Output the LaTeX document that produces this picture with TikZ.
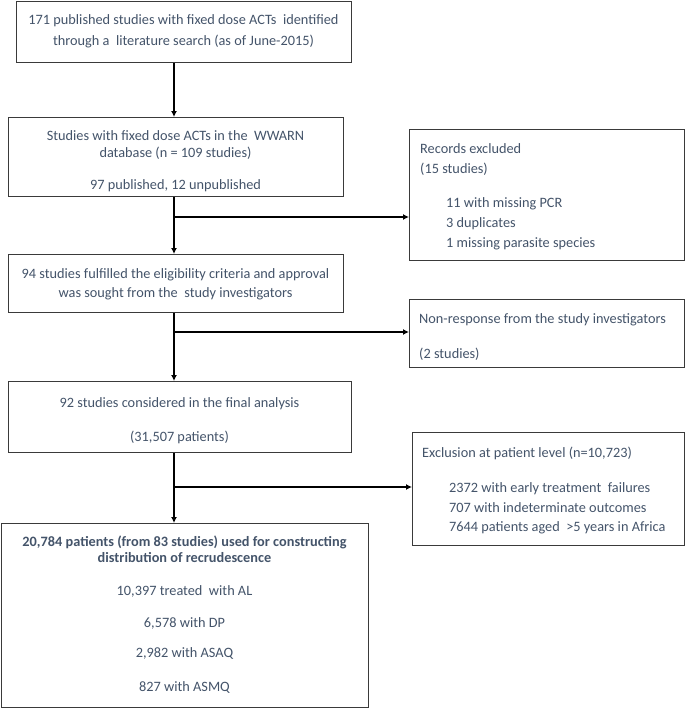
\documentclass[tikz,border=0pt]{standalone}
\usepackage{fontspec}
\setmainfont{Carlito}
\usetikzlibrary{arrows.meta}
\definecolor{txt}{HTML}{44546A}
\definecolor{frame}{HTML}{3A3A3A}
\tikzset{
  boxnode/.style={draw=frame, line width=1.2pt, anchor=north west, inner sep=0pt, fill=white},
  tl/.style={text=txt, font=\fontsize{14.3}{17}\selectfont, inner sep=0pt, anchor=mid, yshift=-2.5pt},
  tlw/.style={tl, anchor=mid west},
  tlb/.style={tl, font=\fontsize{14.3}{17}\selectfont\bfseries},
  arr/.style={draw=black, line width=1.2pt, -{Latex[length=6pt,width=6pt]}},
  ln/.style={draw=black, line width=1.2pt}
}
\begin{document}
\begin{tikzpicture}[x=1pt,y=-1pt]
\useasboundingbox (0,0) rectangle (685,709);
% boxes
\node[boxnode, minimum width=335pt, minimum height=61pt] (b1) at (16,1) {};
\node[boxnode, minimum width=335pt, minimum height=79pt] (b2) at (8,117) {};
\node[boxnode, minimum width=335pt, minimum height=58pt] (b3) at (8,254) {};
\node[boxnode, minimum width=343pt, minimum height=71pt] (b4) at (8,381) {};
\node[boxnode, minimum width=367pt, minimum height=184pt] (b5) at (1,523) {};
\node[boxnode, minimum width=275pt, minimum height=131pt] (r1) at (409,129) {};
\node[boxnode, minimum width=275pt, minimum height=68pt] (r2) at (409,299) {};
\node[boxnode, minimum width=272pt, minimum height=113pt] (r3) at (412,432) {};
% texts
\node[tl] (t11) at (183.5,20) {171 published studies with fixed dose ACTs\ \ identified};
\node[tl] (t12) at (183.5,41) {through a\ \ literature search (as of June-2015)};
\node[tl] (t21) at (175.5,136) {Studies with fixed dose ACTs in the\ \ WWARN};
\node[tl] (t22) at (175.5,153) {database (n = 109 studies)};
\node[tl] (t23) at (175.5,185) {97 published, 12 unpublished};
\node[tl] (t31) at (175.5,274) {94 studies fulfilled the eligibility criteria and approval};
\node[tl] (t32) at (175.5,293) {was sought from the\ \ study investigators};
\node[tl] (t41) at (179.5,403) {92 studies considered in the final analysis};
\node[tl] (t42) at (179.5,437) {(31,507 patients)};
\node[tlb] (t51) at (184.5,542) {20,784 patients (from 83 studies) used for constructing};
\node[tlb] (t52) at (184.5,558) {distribution of recrudescence};
\node[tl] (t53) at (184.5,591) {10,397 treated\ \ with AL};
\node[tl] (t54) at (184.5,623) {6,578 with DP};
\node[tl] (t55) at (184.5,653) {2,982 with ASAQ};
\node[tl] (t56) at (184.5,687) {827 with ASMQ};
\node[tlw] (u11) at (420,149) {Records excluded};
\node[tlw] (u12) at (420,169) {(15 studies)};
\node[tlw] (u13) at (446,203) {11 with missing PCR};
\node[tlw] (u14) at (446,223) {3 duplicates};
\node[tlw] (u15) at (446,243) {1 missing parasite species};
\node[tlw] (u21) at (419,319) {Non-response from the study investigators};
\node[tlw] (u22) at (419,354) {(2 studies)};
\node[tlw] (u31) at (422,453) {Exclusion at patient level (n=10,723)};
\node[tlw] (u32) at (449,488) {2372 with early treatment\ \ failures};
\node[tlw] (u33) at (449,508) {707 with indeterminate outcomes};
\node[tlw] (u34) at (449,527) {7644 patients aged\ \ >5 years in Africa};
% connectors
\coordinate (sp) at (174,0);
\coordinate (j1) at (174,217);
\coordinate (j2) at (174,332);
\coordinate (j3) at (174,487);
\draw[arr] (b1.south -| sp) -- (b2.north -| sp);
\draw[arr] (b2.south -| sp) -- (b3.north -| sp);
\draw[arr] (b3.south -| sp) -- (b4.north -| sp);
\draw[arr] (b4.south -| sp) -- (b5.north -| sp);
\draw[arr] (j1) -- (j1 -| r1.west);
\draw[arr] (j2) -- (j2 -| r2.west);
\draw[arr] (j3) -- (j3 -| r3.west);
\end{tikzpicture}
\end{document}
